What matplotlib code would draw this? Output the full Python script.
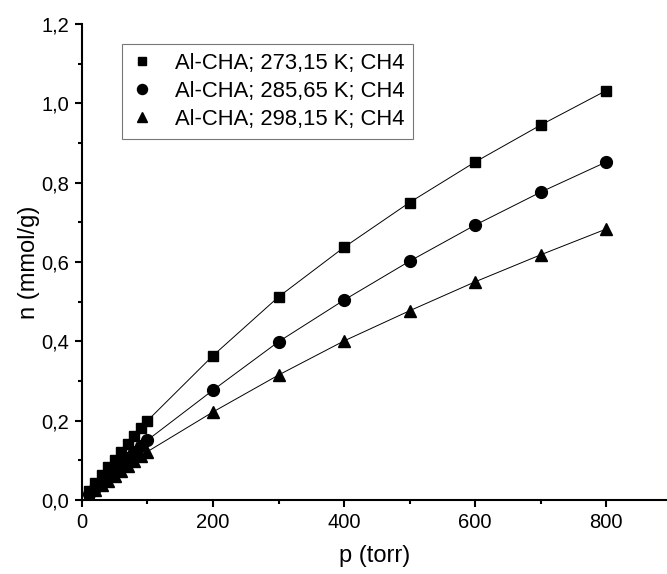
import matplotlib
matplotlib.use("Agg")
import matplotlib.pyplot as plt
from matplotlib.ticker import MultipleLocator, FuncFormatter

plt.rcParams['font.family'] = ['Liberation Sans', 'DejaVu Sans']

# pressure (torr)
p = [10, 20, 30, 40, 50, 60, 70, 80, 90, 100, 200, 300, 400, 500, 600, 700, 800]

# adsorbed amount (mmol/g)
n_273 = [0.022, 0.042, 0.062, 0.082, 0.102, 0.122, 0.142, 0.162, 0.181, 0.200,
         0.364, 0.512, 0.637, 0.750, 0.852, 0.945, 1.032]
n_285 = [0.016, 0.031, 0.046, 0.061, 0.076, 0.091, 0.106, 0.121, 0.136, 0.151,
         0.277, 0.399, 0.504, 0.602, 0.693, 0.776, 0.852]
n_298 = [0.012, 0.025, 0.037, 0.049, 0.061, 0.074, 0.086, 0.098, 0.110, 0.122,
         0.222, 0.315, 0.401, 0.477, 0.550, 0.618, 0.683]

labels = ['Al-CHA; 273,15 K; CH4', 'Al-CHA; 285,65 K; CH4', 'Al-CHA; 298,15 K; CH4']

fig = plt.figure(figsize=(6.67, 5.74), dpi=100)
ax = fig.add_axes([0.1229, 0.1289, 0.8771, 0.8293])

series = [(n_273, 's', 7.5), (n_285, 'o', 8.5), (n_298, '^', 9)]
for vals, mk, ms in series:
    ax.plot(p, vals, color='black', lw=0.7, marker=mk, markersize=ms)

# legend uses markers only
handles = [plt.Line2D([], [], ls='none', marker=mk, color='black', markersize=ms * 0.85)
           for _, mk, ms in series]
leg = ax.legend(handles, labels, loc='upper left', bbox_to_anchor=(0.069, 0.958),
                fontsize=15.8, frameon=True, fancybox=False, handlelength=1.0,
                handletextpad=1.0, borderpad=0.4, labelspacing=0.32, borderaxespad=0)
leg.get_frame().set_edgecolor('#555555')
leg.get_frame().set_linewidth(0.8)

ax.set_xlim(0, 893)
ax.set_ylim(0, 1.2)
ax.xaxis.set_major_locator(MultipleLocator(200))
ax.xaxis.set_minor_locator(MultipleLocator(100))
ax.yaxis.set_major_locator(MultipleLocator(0.2))
ax.yaxis.set_minor_locator(MultipleLocator(0.1))
ax.yaxis.set_major_formatter(FuncFormatter(lambda v, _: f"{v:.1f}".replace('.', ',')))

for side in ['top', 'right']:
    ax.spines[side].set_visible(False)
for side in ['left', 'bottom']:
    ax.spines[side].set_linewidth(1.5)

ax.tick_params(which='major', direction='out', length=5, width=1.5, labelsize=14.5, pad=4)
ax.tick_params(which='minor', direction='out', length=3, width=1.5)

ax.set_xlabel('p (torr)', fontsize=17, labelpad=10)
ax.set_ylabel('n (mmol/g)', fontsize=17, labelpad=1)

fig.savefig('out.png', dpi=100)
